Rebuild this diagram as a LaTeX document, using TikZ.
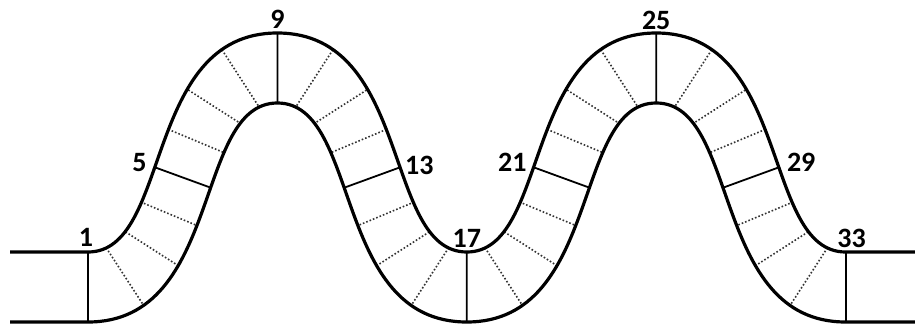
\documentclass[tikz,border=0pt]{standalone}
\usepackage{fontspec}
\setmainfont{Carlito}
\usetikzlibrary{decorations.markings}

\def\uprim{(10,73) -- (88,73)
  .. controls +(84,0) and +(-135,0) .. ++(189.4,219)
  .. controls +(135,0) and +(-84,0) .. ++(189.4,-219)
  .. controls +(84,0) and +(-135,0) .. ++(189.4,219)
  .. controls +(135,0) and +(-84,0) .. ++(189.4,-219) -- (915,73)}
\def\lowrim{(10,3) -- (88,3)
  .. controls +(135,0) and +(-84,0) .. ++(189.4,219)
  .. controls +(84,0) and +(-135,0) .. ++(189.4,-219)
  .. controls +(135,0) and +(-84,0) .. ++(189.4,219)
  .. controls +(84,0) and +(-135,0) .. ++(189.4,-219) -- (915,3)}

\begin{document}
\begin{tikzpicture}[x=1pt, y=1pt,
  rim/.style={line width=3.2pt, line join=round},
  fulltick/.style={line width=1.8pt},
  dottick/.style={line width=1.6pt, black!80, dash pattern=on 1.6pt off 2pt},
  lab/.style={font=\bfseries\fontsize{28}{32}\selectfont, inner sep=2pt},
  ticks/.style={postaction=decorate, decoration={markings,
    mark=between positions 0 and 0.99 step 0.03125 with {
      \pgfmathtruncatemacro\tk{\pgfkeysvalueof{/pgf/decoration/mark info/sequence number}}
      \pgfmathtruncatemacro\tm{mod(\tk-1,4)}
      \ifnum\tm=0 \draw[fulltick] (0,45) -- (0,-45);
      \else \draw[dottick] (0,45) -- (0,-45); \fi
      \coordinate (u\tk) at (0,35);
    }}}]
\useasboundingbox (0,0) rectangle (915,325);
\begin{scope}
  \clip \uprim -- (915,-5) -- (10,-5) -- cycle;
  \clip \lowrim -- (915,330) -- (10,330) -- cycle;
  \path[ticks] (88,38)
    .. controls +(109.5,0) and +(-109.5,0) .. ++(189.4,219)
    .. controls +(109.5,0) and +(-109.5,0) .. ++(189.4,-219)
    .. controls +(109.5,0) and +(-109.5,0) .. ++(189.4,219)
    .. controls +(109.5,0) and +(-109.5,0) .. ++(189.4,-219) coordinate (c33);
  \draw[fulltick] ([yshift=40pt]c33) -- ([yshift=-40pt]c33);
\end{scope}
\coordinate (u33) at ([yshift=35pt]c33);
\draw[rim] \uprim;
\draw[rim] \lowrim;
\node[lab, above=3pt, xshift=-2pt] (t1) at (u1) {1};
\node[lab, left, xshift=-1pt, yshift=3pt] (t5) at (u5) {5};
\node[lab, above=2pt] (t9) at (u9) {9};
\node[lab, right, xshift=-2pt] (t13) at (u13) {13};
\node[lab, above=2pt] (t17) at (u17) {17};
\node[lab, left, yshift=3pt] (t21) at (u21) {21};
\node[lab, above=1pt] (t25) at (u25) {25};
\node[lab, right, xshift=1pt, yshift=3pt] (t29) at (u29) {29};
\node[lab, above=2pt, xshift=6pt] (t33) at (u33) {33};
\end{tikzpicture}
\end{document}
